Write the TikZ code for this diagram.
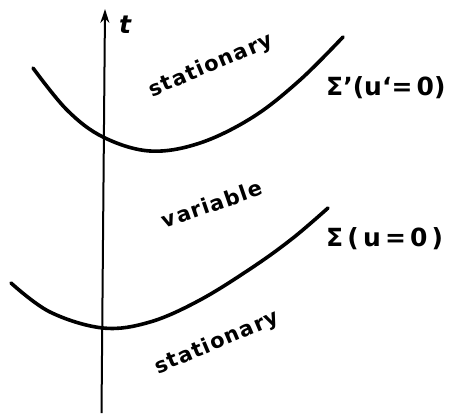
\documentclass[tikz,border=0pt]{standalone}
\usepackage{fontspec}
\setmainfont{DejaVu Sans}
\newfontfamily\regionfont[LetterSpace=6]{DejaVu Sans}
\usetikzlibrary{arrows.meta}
\begin{document}
\begin{tikzpicture}[
        x=1pt, y=-1pt,
        curve/.style={line width=3.6pt, line cap=round},
        axis/.style={-{Stealth[length=14pt, width=9pt]}, line width=2pt},
        region/.style={font=\regionfont\bfseries\fontsize{21}{22}\selectfont, inner sep=0pt},
        surf/.style={font=\bfseries\fontsize{25}{28}\selectfont, inner sep=0pt, anchor=west}
      ]
        \useasboundingbox (0,0) rectangle (454,413);

        % time axis
        \coordinate (tbot) at (101.5,413);
        \coordinate (ttop) at (105,9);
        \draw[axis] (tbot) -- (ttop);
        \node[font=\bfseries\itshape\fontsize{25}{26}\selectfont, inner sep=0pt] (tlab) at (125,25) {t};

        % surfaces
        \draw[curve] plot[smooth, tension=0.6] coordinates
          {(33,68) (67,110) (103,137) (150,151) (200,143) (253,117) (300,80) (343,37)};
        \draw[curve] plot[smooth, tension=0.6] coordinates
          {(11,283) (50,312) (103,328) (150,322) (200,300) (253,267) (293,238) (328,208)};

        \node[surf] (sigmap) at (326,88) {Σ’(u‘=\,0)};
        \node[surf] (sigma) at (326,239) {Σ\,(\,u\,=\,0\,)};

        % regions
        \node[region, rotate=23] (statup) at (211,66) {stationary};
        \node[region, rotate=19] (var) at (212,204) {variable};
        \node[region, rotate=23] (statlow) at (217,343) {stationary};
      \end{tikzpicture}
\end{document}
